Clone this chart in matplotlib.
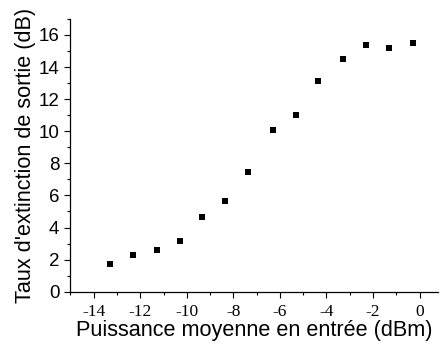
import matplotlib.pyplot as plt
from matplotlib.ticker import MultipleLocator

plt.rcParams['axes.unicode_minus'] = False

# donnees
puissance = [-13.3, -12.3, -11.3, -10.3, -9.35, -8.35, -7.35, -6.3, -5.3, -4.35, -3.3, -2.3, -1.3, -0.3]
taux_extinction = [1.73, 2.29, 2.6, 3.18, 4.64, 5.63, 7.44, 10.1, 11.0, 13.14, 14.53, 15.36, 15.16, 15.47]

fig = plt.figure(figsize=(4.43, 3.44), dpi=100)
ax = fig.add_axes([0.159, 0.152, 0.83, 0.793])

ax.plot(puissance, taux_extinction, 's', color='black', markersize=4.8, markeredgewidth=0)

ax.set_xlim(-15, 0.8)
ax.set_ylim(0, 17)
ax.xaxis.set_major_locator(MultipleLocator(2))
ax.xaxis.set_minor_locator(MultipleLocator(1))
ax.yaxis.set_major_locator(MultipleLocator(2))
ax.yaxis.set_minor_locator(MultipleLocator(1))

ax.spines['top'].set_visible(False)
ax.spines['right'].set_visible(False)
ax.spines['left'].set_linewidth(0.9)
ax.spines['bottom'].set_linewidth(0.9)
ax.tick_params(which='major', direction='out', length=4.5, width=0.8)
ax.tick_params(which='minor', direction='out', length=2.5, width=0.8)
ax.tick_params(axis='x', pad=4)

for lbl in ax.get_yticklabels():
    lbl.set_family('Liberation Sans')
    lbl.set_fontsize(13.5)
for lbl in ax.get_xticklabels():
    lbl.set_family('Liberation Serif')
    lbl.set_fontsize(12.5)

ax.set_xlabel('Puissance moyenne en entrée (dBm)', family='Liberation Sans', fontsize=15.6, labelpad=0)
ax.set_ylabel("Taux d'extinction de sortie (dB)", family='Liberation Sans', fontsize=15.6, labelpad=2)

fig.savefig('out.png', dpi=100)
